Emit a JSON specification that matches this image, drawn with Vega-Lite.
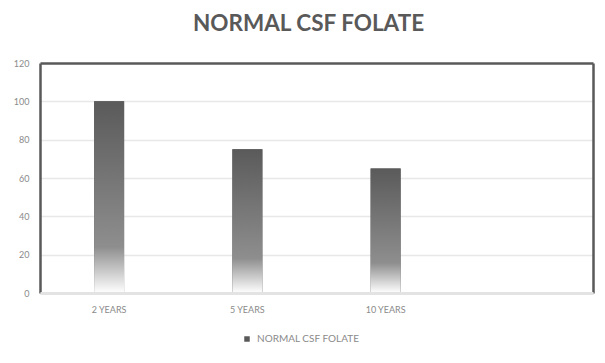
{
  "$schema": "https://vega.github.io/schema/vega-lite/v6.json",
  "autosize": {"type": "none"},
  "width": 553,
  "height": 230,
  "padding": {"left": 40, "top": 63, "right": 12, "bottom": 70},
  "background": "#ffffff",
  "title": {
    "text": "NORMAL CSF FOLATE",
    "font": "Lato",
    "fontSize": 22.5,
    "fontWeight": "bold",
    "color": "#595959",
    "anchor": "middle",
    "offset": 24,
    "dx": -8
  },
  "data": {
    "values": [
      {"age": "2 YEARS", "value": 100, "series": "NORMAL CSF FOLATE"},
      {"age": "5 YEARS", "value": 75, "series": "NORMAL CSF FOLATE"},
      {"age": "10 YEARS", "value": 65, "series": "NORMAL CSF FOLATE"}
    ]
  },
  "encoding": {
    "x": {
      "field": "age",
      "type": "nominal",
      "sort": null,
      "scale": {"domain": ["2 YEARS", "5 YEARS", "10 YEARS", " "], "paddingInner": 0, "paddingOuter": 0},
      "axis": {
        "title": null,
        "labelAngle": 0,
        "ticks": false,
        "domainColor": "#e3e3e3",
        "domainWidth": 3,
        "zindex": 2,
        "labelPadding": 12,
        "labelFont": "Lato",
        "labelFontSize": 9,
        "labelColor": "#8a8a8a"
      }
    }
  },
  "layer": [
    {
      "mark": {"type": "bar", "width": 30},
      "encoding": {
        "y": {
          "field": "value",
          "type": "quantitative",
          "scale": {"domain": [0, 120]},
          "axis": {
            "title": null,
            "values": [0, 20, 40, 60, 80, 100, 120],
            "ticks": false,
            "domainColor": "#595959",
            "domainWidth": 2.5,
            "gridColor": {"condition": {"test": "datum.value === 120", "value": "#595959"}, "value": "#e8e8e8"},
            "gridWidth": {"condition": {"test": "datum.value === 120", "value": 2.5}, "value": 1.5},
            "labelPadding": 11,
            "labelFont": "Lato",
            "labelFontSize": 9,
            "labelColor": "#8a8a8a"
          }
        },
        "color": {
          "field": "series",
          "type": "nominal",
          "scale": {"range": ["#595959"]},
          "legend": {
            "title": null,
            "orient": "none",
            "legendX": 202,
            "legendY": 271,
            "direction": "horizontal",
            "symbolType": "square",
            "symbolSize": 30,
            "labelFont": "Lato",
            "labelFontSize": 10,
            "labelColor": "#8a8a8a",
            "labelOffset": 5
          }
        }
      }
    },
    {
      "mark": {
        "type": "bar",
        "width": 30,
        "color": {
          "gradient": "linear",
          "x1": 0, "y1": 0, "x2": 0, "y2": 1,
          "stops": [
            {"offset": 0, "color": "#5a5a5a"},
            {"offset": 0.76, "color": "#8e8e8e"},
            {"offset": 1, "color": "#ffffff"}
          ]
        }
      },
      "encoding": {
        "y": {
          "field": "value",
          "type": "quantitative",
          "axis": {
            "orient": "right",
            "title": null,
            "labels": false,
            "ticks": false,
            "grid": false,
            "domainColor": "#595959",
            "domainWidth": 2.5
          }
        }
      }
    }
  ],
  "resolve": {"axis": {"y": "independent"}},
  "config": {
    "view": {"stroke": null}
  }
}
